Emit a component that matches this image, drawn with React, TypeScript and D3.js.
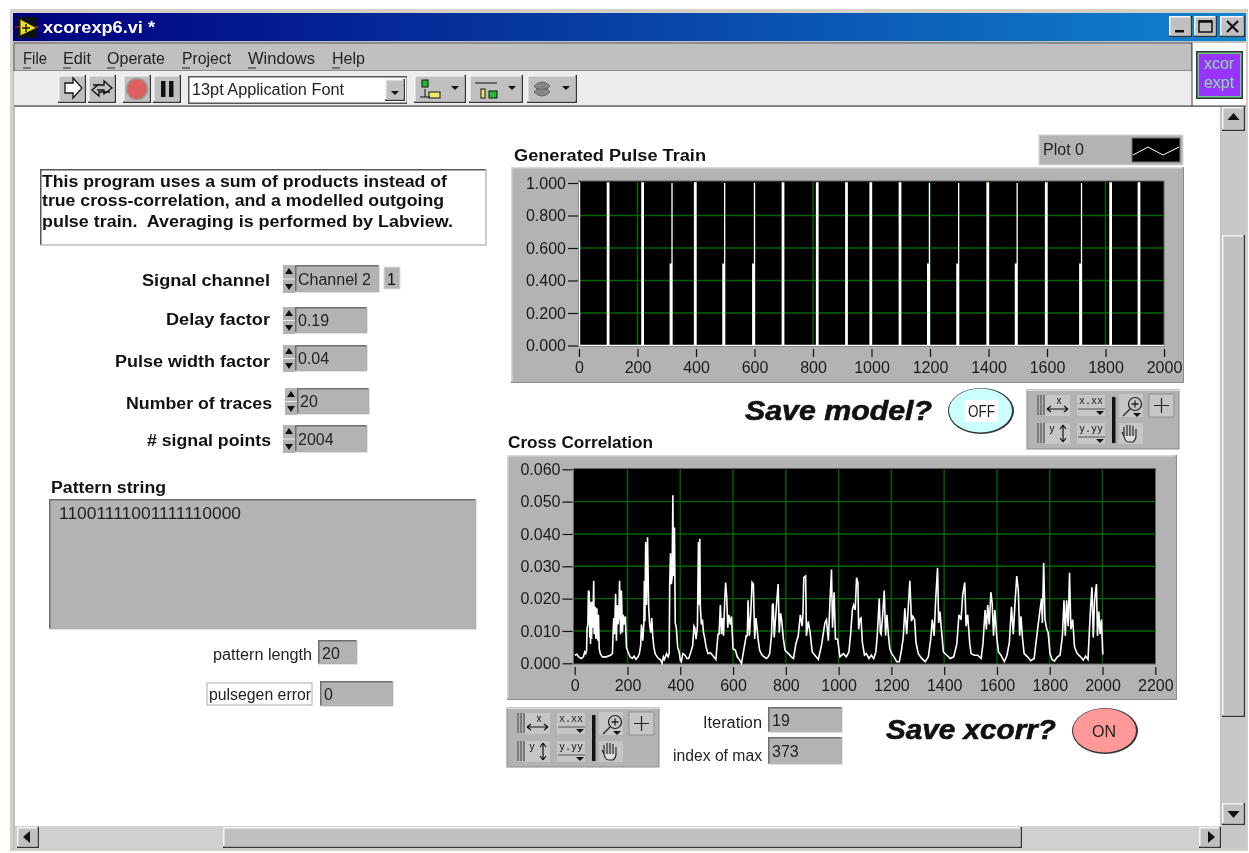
import React, { useEffect, useRef } from "react";
import * as d3 from "d3";

// ---- data ----
const pulseTicksX = [0, 200, 400, 600, 800, 1000, 1200, 1400, 1600, 1800, 2000];
const pulseTicksY = [0, 0.2, 0.4, 0.6, 0.8, 1.0];
const corrTicksX = [0, 200, 400, 600, 800, 1000, 1200, 1400, 1600, 1800, 2000, 2200];
const corrTicksY = [0, 0.01, 0.02, 0.03, 0.04, 0.05, 0.06];

// full-height wide pulses
const widePulses = [100, 218, 398, 698, 815, 915, 998, 1098, 1398, 1598, 1818, 1915];
// pulses whose lower half is wide and upper half is a thin line
const mixedPulses = [318, 498, 600, 1198, 1298, 1498, 1718];

const corrTrace: [number, number][] = [
  [0, .0025], [8, .0028], [15, .002], [25, .0015], [33, .002], [38, .0035], [42, .003], [45, .004], [47, .011], [50, .012],
  [52, .0225], [55, .022], [57, .008], [59, .017], [60, .006], [62, .019], [64, .0075], [66, .019], [68, .011], [70, .016], [72, .0255],
  [74, .009], [76, .0165], [78, .0175], [80, .0075], [82, .016], [84, .017], [86, .0085], [88, .007], [90, .015], [93, .0045], [97, .003],
  [105, .002], [120, .002], [135, .0025], [143, .003], [146, .0105], [148, .014], [151, .009], [155, .0215], [158, .007],
  [161, .018], [164, .012], [167, .0145], [170, .0255], [174, .009], [177, .0225], [181, .0095], [184, .015], [188, .012], [192, .0145],
  [196, .005], [202, .0035], [210, .002], [218, .0015], [225, .0022], [232, .0012], [240, .002], [245, .003], [250, .0055],
  [253, .012], [258, .007], [262, .012], [264, .0255], [266, .013], [269, .0375], [272, .018], [276, .039], [280, .018],
  [284, .012], [288, .0095], [292, .014], [296, .008], [300, .005], [305, .003], [312, .002], [318, .0015], [326, .001],
  [331, 0], [336, .002], [340, .0012], [348, .003], [354, .002], [358, .003], [360, .0245], [363, .034], [366, .0245],
  [369, .0265], [372, .052], [374, .027], [378, .042], [381, .0125], [385, .011], [390, .005], [396, .0035], [400, .001],
  [404, .0005], [410, .003], [418, .0025], [425, .0015], [432, .0015], [440, .0035], [447, .0055], [452, .0115], [455, .011],
  [460, .0075], [465, .0115], [467, .0245], [469, .0375], [471, .018], [474, .0385], [476, .0175], [480, .012], [484, .0135],
  [488, .0095], [492, .008], [498, .005], [505, .003], [515, .0032], [525, .0022], [535, .0012], [543, .009], [547, .009],
  [552, .018], [556, .009], [560, .014], [564, .0085], [568, .0185], [572, .025], [576, .0205], [580, .011], [584, .015], [590, .012], [594, .0145],
  [600, .0045], [609, .004], [616, .002], [625, .001], [632, 0], [642, .0048], [650, .0085], [654, .0085], [657, .0195], [662, .0085],
  [667, .015], [672, .025], [677, .0245], [682, .0075], [687, .014], [695, .0075], [701, .004], [708, .0028], [714, .0022],
  [727, .0015], [733, .002], [739, .003], [746, .009], [749, .018], [752, .0185], [756, .008], [765, .0185], [771, .0245], [775, .0095],
  [780, .0155], [784, .0135], [790, .008], [797, .004], [810, .003], [821, .002], [829, .0015], [838, .006], [847, .0085], [855, .015],
  [862, .0115], [865, .0155], [868, .0265], [875, .027], [878, .0085], [885, .013], [892, .0095], [900, .0035], [910, .0025], [923, .0012],
  [935, .0055], [948, .0125], [954, .0135], [961, .007], [967, .0185], [973, .029], [977, .011], [983, .022], [988, .0075],
  [996, .0075], [1005, .002], [1018, .003], [1029, .002], [1039, .0035], [1046, .0095], [1052, .0165], [1057, .018], [1063, .0165],
  [1068, .0265], [1073, .025], [1076, .0105], [1080, .0135], [1085, .014], [1090, .0065], [1098, .0025], [1105, .003],
  [1115, .0015], [1124, .0025], [1133, .0015], [1141, .0035], [1146, .008], [1154, .02], [1158, .0095], [1161, .009], [1167, .015],
  [1173, .0225], [1178, .0085], [1183, .015], [1189, .0085], [1194, .0045], [1201, .003], [1210, .002], [1220, .0005],
  [1230, .0005], [1238, .004], [1245, .008], [1251, .017], [1258, .009], [1264, .0175], [1270, .0255], [1276, .013], [1281, .0145],
  [1288, .0135], [1293, .0065], [1302, .003], [1315, .0015], [1328, .0005], [1340, .002], [1349, .0075], [1355, .0135],
  [1362, .0085], [1368, .02], [1375, .0295], [1379, .0125], [1384, .016], [1391, .009], [1397, .0035], [1410, .0025],
  [1423, .0015], [1436, .002], [1448, .006], [1456, .015], [1464, .0135], [1470, .021], [1478, .025], [1483, .0115],
  [1489, .015], [1497, .006], [1502, .003], [1514, .0025], [1527, .0025], [1540, .0015], [1547, .006], [1555, .0165],
  [1560, .0105], [1565, .018], [1571, .012], [1577, .022], [1582, .0185], [1587, .0085], [1592, .0165], [1600, .0075],
  [1606, .0035], [1615, .0025], [1628, .0005], [1638, .0025], [1647, .0065], [1655, .0175], [1662, .009], [1668, .018],
  [1675, .027], [1681, .0225], [1686, .0085], [1691, .0145], [1697, .0075], [1703, .003], [1716, .002], [1728, .0008],
  [1741, .0015], [1751, .0085], [1760, .0145], [1769, .02], [1772, .0125], [1777, .031], [1782, .0135], [1789, .0105],
  [1794, .0095], [1801, .003], [1809, .0012], [1818, .0007], [1829, .002], [1839, .0025], [1848, .0085], [1854, .0195],
  [1859, .0085], [1864, .0195], [1870, .0115], [1875, .028], [1880, .0105], [1887, .0135], [1894, .005], [1904, .003],
  [1917, .002], [1927, .001], [1936, .0022], [1945, .0012], [1950, .0095], [1955, .0175], [1960, .0235], [1965, .008],
  [1970, .0195], [1977, .0245], [1981, .0085], [1986, .016], [1991, .009], [1996, .0135], [2001, .003], [2004, .003],
];

const menuItems = [
  { label: "File", x: 23, w: 24 },
  { label: "Edit", x: 63, w: 28 },
  { label: "Operate", x: 107, w: 58 },
  { label: "Project", x: 182, w: 49 },
  { label: "Windows", x: 248, w: 67 },
  { label: "Help", x: 332, w: 33 },
];

const noteLines = [
  "This program uses a sum of products instead of",
  "true cross-correlation, and a modelled outgoing",
  "pulse train.  Averaging is performed by Labview.",
];
const noteWidths = [405, 402, 411];

const SANS = "'Liberation Sans', Arial, sans-serif";
const GRAY = "#b3b3b3";
const GRID = "#006400";

function T({ x, y, s, size = 16, bold = false, italic = false, fill = "#111", len, anchor = "start", stroke }: any) {
  return (
    <text
      x={x}
      y={y}
      fontFamily={SANS}
      fontSize={size}
      fontWeight={bold ? 700 : 400}
      fontStyle={italic ? "italic" : "normal"}
      fill={fill}
      stroke={stroke}
      strokeWidth={stroke ? 0.6 : undefined}
      textLength={len}
      lengthAdjust={len ? "spacingAndGlyphs" : undefined}
      textAnchor={anchor}
      dominantBaseline="central"
      xmlSpace="preserve"
    >
      {s}
    </text>
  );
}

function Inset({ x, y, w, h, fill = GRAY }: any) {
  return (
    <g>
      <rect x={x} y={y} width={w} height={h} fill="#e4e4e4" />
      <rect x={x} y={y} width={w - 1.5} height={h - 1.5} fill="#6e6e6e" />
      <rect x={x + 1.5} y={y + 1.5} width={w - 3} height={h - 3} fill={fill} />
    </g>
  );
}

function Raised({ x, y, w, h, fill = "#c0c0c0" }: any) {
  return (
    <g>
      <rect x={x} y={y} width={w} height={h} fill="#333" />
      <rect x={x} y={y} width={w - 1.5} height={h - 1.5} fill="#f4f4f4" />
      <rect x={x + 1.5} y={y + 1.5} width={w - 3} height={h - 3} fill={fill} />
    </g>
  );
}

function Spinner({ x, y, h }: any) {
  const mid = y + h / 2;
  return (
    <g>
      <rect x={x} y={y} width={12} height={h} fill={GRAY} />
      <path d={`M${x + 6},${y + 3} l4,6 h-8 z`} fill="#111" />
      <path d={`M${x + 6},${y + h - 3} l4,-6 h-8 z`} fill="#111" />
      <line x1={x} x2={x + 12} y1={mid} y2={mid} stroke="#eee" />
    </g>
  );
}

function NumberBox({ sx, x, y, w, h, value }: any) {
  return (
    <g>
      <Spinner x={sx} y={y} h={h} />
      <Inset x={x} y={y} w={w} h={h} />
      <T x={x + 3} y={y + h / 2} s={value} size={16} fill="#222" />
    </g>
  );
}

function Palette({ dx, dy }: any) {
  const b = "#c6c6c6";
  return (
    <g transform={`translate(${dx},${dy})`}>
      <rect x={507} y={708} width={152} height={59} fill={GRAY} stroke="#8a8a8a" />
      <line x1={507} x2={659} y1={708.5} y2={708.5} stroke="#ddd" />
      {/* x scale */}
      <rect x={525} y={713} width={25} height={21} fill={b} />
      <path d="M518,713v20M521,713v20M524,713v20" stroke="#444" strokeWidth={1} />
      <path d="M527,727h21M527,727l4,-3M527,727l4,3M548,727l-4,-3M548,727l-4,3" stroke="#111" fill="none" strokeWidth={1.2} />
      <text x={539} y={722} fontSize={10} fontFamily={SANS} fill="#111" textAnchor="middle">x</text>
      {/* x format */}
      <rect x={557} y={713} width={28} height={21} fill={b} />
      <text x={571} y={722} fontSize={10} fontFamily="'DejaVu Sans Mono'" fill="#222" textAnchor="middle">x.xx</text>
      <line x1={558} x2={585} y1={727} y2={727} stroke="#555" />
      <path d="M576,729h8l-4,4z" fill="#111" />
      {/* separator */}
      <rect x={592} y={715} width={3.5} height={46} fill="#111" />
      {/* zoom */}
      <rect x={599} y={712} width={24} height={23} fill={b} />
      <circle cx={615} cy={722} r={6.5} fill="none" stroke="#222" strokeWidth={1.2} />
      <path d="M611.5,722h7M615,718.5v7M610,727l-7,7" stroke="#222" strokeWidth={1.3} />
      <path d="M613,731h8l-4,4z" fill="#111" />
      {/* cursor */}
      <rect x={629} y={712} width={25} height={23} fill={b} stroke="#8f8f8f" />
      <path d="M641.5,716v15M634,723.5h15" stroke="#222" strokeWidth={1.2} />
      {/* y scale */}
      <rect x={525} y={741} width={25} height={21} fill={b} />
      <path d="M518,741v20M521,741v20M524,741v20" stroke="#444" strokeWidth={1} />
      <path d="M543,743v17M543,743l-3,4M543,743l3,4M543,760l-3,-4M543,760l3,-4" stroke="#111" fill="none" strokeWidth={1.2} />
      <text x={532} y={750} fontSize={10} fontFamily={SANS} fill="#111" textAnchor="middle">y</text>
      {/* y format */}
      <rect x={557} y={741} width={28} height={21} fill={b} />
      <text x={571} y={750} fontSize={10} fontFamily="'DejaVu Sans Mono'" fill="#222" textAnchor="middle">y.yy</text>
      <line x1={558} x2={585} y1={755} y2={755} stroke="#555" />
      <path d="M576,757h8l-4,4z" fill="#111" />
      {/* hand */}
      <rect x={599} y={741} width={24} height={21} fill={b} />
      <path d="M604,754l-2,-4M604,754v-9M607,754v-11M610,754v-11M613,754v-10M616,754v-7M604,754q1,6 5,6h4q3,-2 3,-6" stroke="#222" strokeWidth={1.1} fill="#ddd" />
    </g>
  );
}

function Round({ cx, cy, fill, label, rect }: any) {
  return (
    <g>
      <ellipse cx={cx} cy={cy} rx={33} ry={23} fill="#333" />
      <ellipse cx={cx - 0.5} cy={cy - 0.5} rx={31.5} ry={22} fill={fill} />
      {rect && <rect x={cx - 16} y={cy - 11} width={33} height={22} fill="#fff" />}
      <T x={cx - 13} y={cy} s={label} size={16} len={label === "ON" ? 24 : 27} fill="#222" />
    </g>
  );
}

function Graph({ panel, plot, x0, x1, yTop, yBot, xDomain, yDomain, xTicks, yTicks, yFormat, tickGapY, tickGapX, path, lineWidth }: any) {
  const xAxisRef = useRef<SVGGElement>(null);
  const yAxisRef = useRef<SVGGElement>(null);
  const xScale = d3.scaleLinear().domain(xDomain).range([x0, x1]);
  const yScale = d3.scaleLinear().domain(yDomain).range([yBot, yTop]);

  useEffect(() => {
    const style = (sel: any) => {
      sel.select(".domain").remove();
      sel.selectAll("line").attr("stroke", "#111").attr("stroke-width", 1.2);
      sel.selectAll("text").attr("fill", "#1a1a1a").attr("font-family", SANS).attr("font-size", 16);
    };
    const ax = d3.select(xAxisRef.current!);
    ax.attr("transform", `translate(0,${tickGapX})`)
      .call(d3.axisBottom(xScale).tickValues(xTicks).tickFormat(d3.format("d") as any).tickSize(8).tickPadding(5));
    style(ax);
    const ay = d3.select(yAxisRef.current!);
    ay.attr("transform", `translate(${tickGapY},0)`)
      .call(d3.axisLeft(yScale).tickValues(yTicks).tickFormat(d3.format(".3f") as any).tickSize(10).tickPadding(2));
    style(ay);
  }, []);

  const line = d3.line<[number, number]>().x((d) => xScale(d[0])).y((d) => yScale(d[1]));

  return (
    <g>
      <rect x={panel.x} y={panel.y} width={panel.w} height={panel.h} fill="#8c8c8c" />
      <rect x={panel.x} y={panel.y} width={panel.w - 1.5} height={panel.h - 1.5} fill="#d8d8d8" />
      <rect x={panel.x + 1.5} y={panel.y + 1.5} width={panel.w - 3} height={panel.h - 3} fill={GRAY} />
      <rect x={plot.x} y={plot.y} width={plot.w} height={plot.h} fill="#000" stroke="#666" strokeWidth={1} />
      {xTicks.map((t: number) =>
        xScale(t) > plot.x + 2 && xScale(t) < plot.x + plot.w - 2 ? (
          <line key={t} x1={xScale(t)} x2={xScale(t)} y1={plot.y} y2={plot.y + plot.h} stroke={GRID} strokeWidth={1.4} />
        ) : null
      )}
      {yTicks.map((t: number) =>
        yScale(t) > plot.y + 2 && yScale(t) < plot.y + plot.h - 2 ? (
          <line key={t} x1={plot.x} x2={plot.x + plot.w} y1={yScale(t)} y2={yScale(t)} stroke={GRID} strokeWidth={1.4} />
        ) : null
      )}
      <path d={line(path) as string} fill="none" stroke="#fff" strokeWidth={lineWidth} strokeLinejoin="miter" />
      <g ref={xAxisRef} />
      <g ref={yAxisRef} />
    </g>
  );
}

function pulsePath(): [number, number][] {
  const items = [
    ...widePulses.map((x) => ({ x, mixed: false })),
    ...mixedPulses.map((x) => ({ x, mixed: true })),
  ].sort((a, b) => a.x - b.x);
  const pts: [number, number][] = [[0, 1], [2, 1], [2, 0]];
  items.forEach(({ x, mixed }) => {
    if (mixed) {
      [-6, -4, -2].forEach((d) => pts.push([x + d, 0], [x + d, 0.5], [x + d + 1, 0.5], [x + d + 1, 0]));
      pts.push([x, 0], [x, 1], [x, 0]);
    } else {
      [-3, -1, 1].forEach((d) => pts.push([x + d, 0], [x + d, 1], [x + d + 1, 1], [x + d + 1, 0]));
    }
  });
  pts.push([2000, 0]);
  return pts;
}

export default function App() {
  return (
    <svg
      width={1249}
      height={853}
      viewBox="0 0 1249 853"
      style={{ position: "absolute", left: 0, top: 0, display: "block", background: "#fff" }}
    >
      <defs>
        <linearGradient id="title" x1="0" x2="1" y1="0" y2="0">
          <stop offset="0" stopColor="#00007f" />
          <stop offset="1" stopColor="#1084d0" />
        </linearGradient>
        <filter id="soft" x="0" y="0" width="100%" height="100%" colorInterpolationFilters="sRGB">
          <feGaussianBlur stdDeviation="0.45" />
        </filter>
      </defs>
      <g filter="url(#soft)">
        <rect x={0} y={0} width={1249} height={853} fill="#fff" />
        {/* window frame */}
        <rect x={10} y={9} width={1238} height={842} fill="#d4d0c8" />
        <rect x={13} y={13} width={1233} height={836} fill="#c0c0c0" />
        <rect x={13} y={13} width={1233} height={28} fill="url(#title)" />
        {/* title icon */}
        <rect x={17} y={17} width={20} height={21} fill="#111" />
        <path d="M20,19 L37,28 L20,36 Z" fill="#e8e020" stroke="#222" />
        <path d="M22,28h8M26,24v8" stroke="#222" strokeWidth={1.5} />
        <path d="M15,27h5M34,27h5" stroke="#c22" strokeWidth={1} />
        <T x={43} y={27} s="xcorexp6.vi *" size={16} bold fill="#fff" len={112} />
        {/* window buttons */}
        <Raised x={1169} y={16} w={23} h={21} />
        <rect x={1175} y={30} width={9} height={2.5} fill="#111" />
        <Raised x={1194} y={16} w={23} h={21} />
        <rect x={1199} y={21} width={13} height={11} fill="none" stroke="#111" strokeWidth={1.5} />
        <line x1={1199} x2={1212} y1={21.5} y2={21.5} stroke="#111" strokeWidth={2.5} />
        <Raised x={1220} y={16} w={25} h={21} />
        <path d="M1227,21l11,11M1238,21l-11,11" stroke="#111" strokeWidth={2.2} />

        {/* menu */}
        <rect x={14} y={43} width={1178} height={28} fill="#c0c0c0" stroke="#444" strokeWidth={0.8} />
        {menuItems.map((m) => (
          <g key={m.label}>
            <T x={m.x} y={58} s={m.label} size={16} fill="#222" len={m.w} />
            <line x1={m.x} x2={m.x + 8} y1={68} y2={68} stroke="#222" strokeWidth={1} />
          </g>
        ))}
        {/* toolbar */}
        <rect x={14} y={71} width={1178} height={35} fill="#ececec" />
        <rect x={1192} y={43} width={54} height={63} fill="#fff" />
        <line x1={1192} x2={1192} y1={43} y2={106} stroke="#444" />
        <rect x={1196} y={51} width={47} height={48} fill="#333" />
        <rect x={1197.5} y={52.5} width={44} height={45} fill="#66cc88" />
        <rect x={1199} y={54} width={41} height={42} fill="#9933ff" />
        <T x={1219} y={63} s="xcor" size={16} fill="#88e0a0" anchor="middle" />
        <T x={1219} y={82} s="expt" size={16} fill="#88e0a0" anchor="middle" />
        <line x1={14} x2={1246} y1={106} y2={106} stroke="#333" strokeWidth={1.2} />

        <Raised x={58} y={75} w={28} h={28} />
        <path d="M65,84h8v-5l9,10l-9,10v-5h-8z" transform="translate(0,-1)" fill="#fff" stroke="#111" strokeWidth={1.3} />
        <Raised x={88} y={75} w={28} h={28} />
        <path d="M93,85h11v-4l8,7l-8,6v-4h-7M110,92h-11v4l-7,-6l7,-6" fill="none" stroke="#111" strokeWidth={1.3} />
        <Raised x={123} y={75} w={28} h={28} />
        <circle cx={137} cy={89} r={10.5} fill="#dc6060" stroke="#999" strokeWidth={1.5} />
        <Raised x={153} y={75} w={28} h={28} />
        <rect x={161} y={81} width={4.5} height={16} fill="#111" />
        <rect x={169} y={81} width={4.5} height={16} fill="#111" />
        <rect x={188} y={76} width={219} height={28} fill="#555" />
        <rect x={189.5} y={77.5} width={217} height={25} fill="#fff" />
        <T x={192} y={89} s="13pt Application Font" size={16} fill="#222" len={152} />
        <Raised x={385} y={79} w={20} h={22} />
        <path d="M391,91h8l-4,4z" fill="#111" />

        <Raised x={414} y={75} w={52} h={28} />
        <rect x={422} y={80} width={6} height={7} fill="#22bb33" stroke="#111" />
        <rect x={429} y={92} width={11} height={6} fill="#eeee66" stroke="#111" />
        <path d="M425,89v8M420,97h10" stroke="#111" />
        <path d="M451,86h8l-4,4z" fill="#111" />
        <Raised x={469} y={75} w={54} h={28} />
        <path d="M475,83h22" stroke="#111" />
        <rect x={481} y={89} width={4} height={9} fill="#eeee66" stroke="#111" />
        <rect x={489} y={91} width={8} height={7} fill="#22bb33" stroke="#111" />
        <path d="M508,86h8l-4,4z" fill="#111" />
        <Raised x={527} y={75} w={50} h={28} />
        <path d="M534,86q8,-8 16,0l-4,4q-4,-4 -8,0zM550,92q-8,8 -16,0l4,-4q4,4 8,0z" fill="#888" stroke="#666" />
        <path d="M562,86h8l-4,4z" fill="#111" />

        {/* main panel */}
        <rect x={15} y={107} width={1205} height={719} fill="#fff" />

        {/* vertical scroll */}
        <rect x={1221} y={107} width={25} height={742} fill="#c8c8c8" />
        <Raised x={1222} y={107} w={23} h={24} />
        <path d="M1233.5,113l6,7h-12z" fill="#111" />
        <Raised x={1222} y={235} w={23} h={482} />
        <Raised x={1222} y={803} w={23} h={22} />
        <path d="M1233.5,818l6,-7h-12z" fill="#111" />
        {/* horizontal scroll */}
        <rect x={15} y={826} width={1206} height={23} fill="#d0d0d0" />
        <Raised x={17} y={827} w={22} h={21} />
        <path d="M23,837l7,-6v12z" fill="#111" />
        <Raised x={223} y={827} w={799} h={21} />
        <Raised x={1199} y={827} w={22} h={21} />
        <path d="M1215,837l-7,-6v12z" fill="#111" />

        {/* note */}
        <rect x={40} y={169} width={447} height={77} fill="#d0d0d0" />
        <rect x={40} y={169} width={445.5} height={75.5} fill="#555" />
        <rect x={41.5} y={170.5} width={444} height={74} fill="#fff" />
        {noteLines.map((t, i) => (
          <T key={i} x={42} y={[181, 200, 221][i]} s={t} size={16} bold fill="#111" len={noteWidths[i]} />
        ))}

        {/* controls */}
        <T x={142} y={280} s="Signal channel" bold len={128} />
        <NumberBox sx={283} x={295} y={265} w={85} h={28} value="Channel 2" />
        <rect x={384} y={267} width={16} height={22} fill={GRAY} stroke="#ddd" />
        <T x={387} y={279} s="1" />
        <T x={166} y={319} s="Delay factor" bold len={104} />
        <NumberBox sx={283} x={295} y={307} w={73} h={27} value="0.19" />
        <T x={115} y={361} s="Pulse width factor" bold len={155} />
        <NumberBox sx={283} x={295} y={345} w={73} h={27} value="0.04" />
        <T x={126} y={403} s="Number of traces" bold len={146} />
        <NumberBox sx={285} x={297} y={388} w={73} h={27} value="20" />
        <T x={147} y={440} s="# signal points" bold len={124} />
        <NumberBox sx={283} x={295} y={425} w={73} h={28} value="2004" />

        <T x={51} y={487} s="Pattern string" bold len={115} />
        <Inset x={49} y={499} w={428} h={131} />
        <T x={59} y={513} s="11001111001111110000" len={182} fill="#222" />

        <T x={213} y={654} s="pattern length" len={99} fill="#222" />
        <Inset x={318} y={640} w={40} h={25} />
        <T x={322} y={653} s="20" fill="#222" />
        <rect x={207} y={683} width={105} height={22} fill="#fff" stroke="#aaa" />
        <T x={209} y={694} s="pulsegen error" len={102} fill="#222" />
        <Inset x={320} y={681} w={74} h={26} />
        <T x={324} y={694} s="0" fill="#222" />

        {/* pulse graph */}
        <T x={514} y={155} s="Generated Pulse Train" bold len={192} />
        <rect x={1039} y={135} width={144} height={30} fill={GRAY} stroke="#d8d8d8" />
        <T x={1043} y={149} s="Plot 0" fill="#222" len={41} />
        <rect x={1132} y={138} width={48} height={24} fill="#000" stroke="#777" />
        <path d="M1133,155l15,-8l15,8l16,-8" fill="none" stroke="#fff" />
        <Graph
          panel={{ x: 511, y: 167, w: 673, h: 216 }}
          plot={{ x: 579, y: 181, w: 585, h: 165.5 }}
          x0={579}
          x1={1164}
          yTop={183}
          yBot={345.5}
          xDomain={[0, 2000]}
          yDomain={[0, 1]}
          xTicks={pulseTicksX}
          yTicks={pulseTicksY}
          tickGapY={578}
          tickGapX={349}
          path={pulsePath()}
          lineWidth={1.3}
        />

        <T x={745} y={411} s="Save model?" size={27} bold italic len={187} stroke="#111" />
        <Round cx={981} cy={411} fill="#ccffff" label="OFF" rect />
        <Palette dx={520} dy={-318} />

        {/* correlation graph */}
        <T x={508} y={442} s="Cross Correlation" bold len={145} />
        <Graph
          panel={{ x: 507, y: 455, w: 670, h: 245 }}
          plot={{ x: 573.5, y: 468.5, w: 582, h: 195.5 }}
          x0={574.7}
          x1={1155.3}
          yTop={469.3}
          yBot={663.3}
          xDomain={[0, 2200]}
          yDomain={[0, 0.06]}
          xTicks={corrTicksX}
          yTicks={corrTicksY}
          tickGapY={572.5}
          tickGapX={667}
          path={corrTrace}
          lineWidth={1.6}
        />

        <Palette dx={0} dy={0} />
        <T x={703} y={722} s="Iteration" len={59} fill="#222" />
        <Inset x={768} y={707} w={75} h={26} />
        <T x={772} y={720} s="19" fill="#222" />
        <T x={673} y={755} s="index of max" len={89} fill="#222" />
        <Inset x={768} y={737} w={75} h={28} />
        <T x={772} y={751} s="373" fill="#222" />
        <T x={886} y={730} s="Save xcorr?" size={27} bold italic len={170} stroke="#111" />
        <Round cx={1105} cy={731} fill="#ff9999" label="ON" />
      </g>
    </svg>
  );
}
